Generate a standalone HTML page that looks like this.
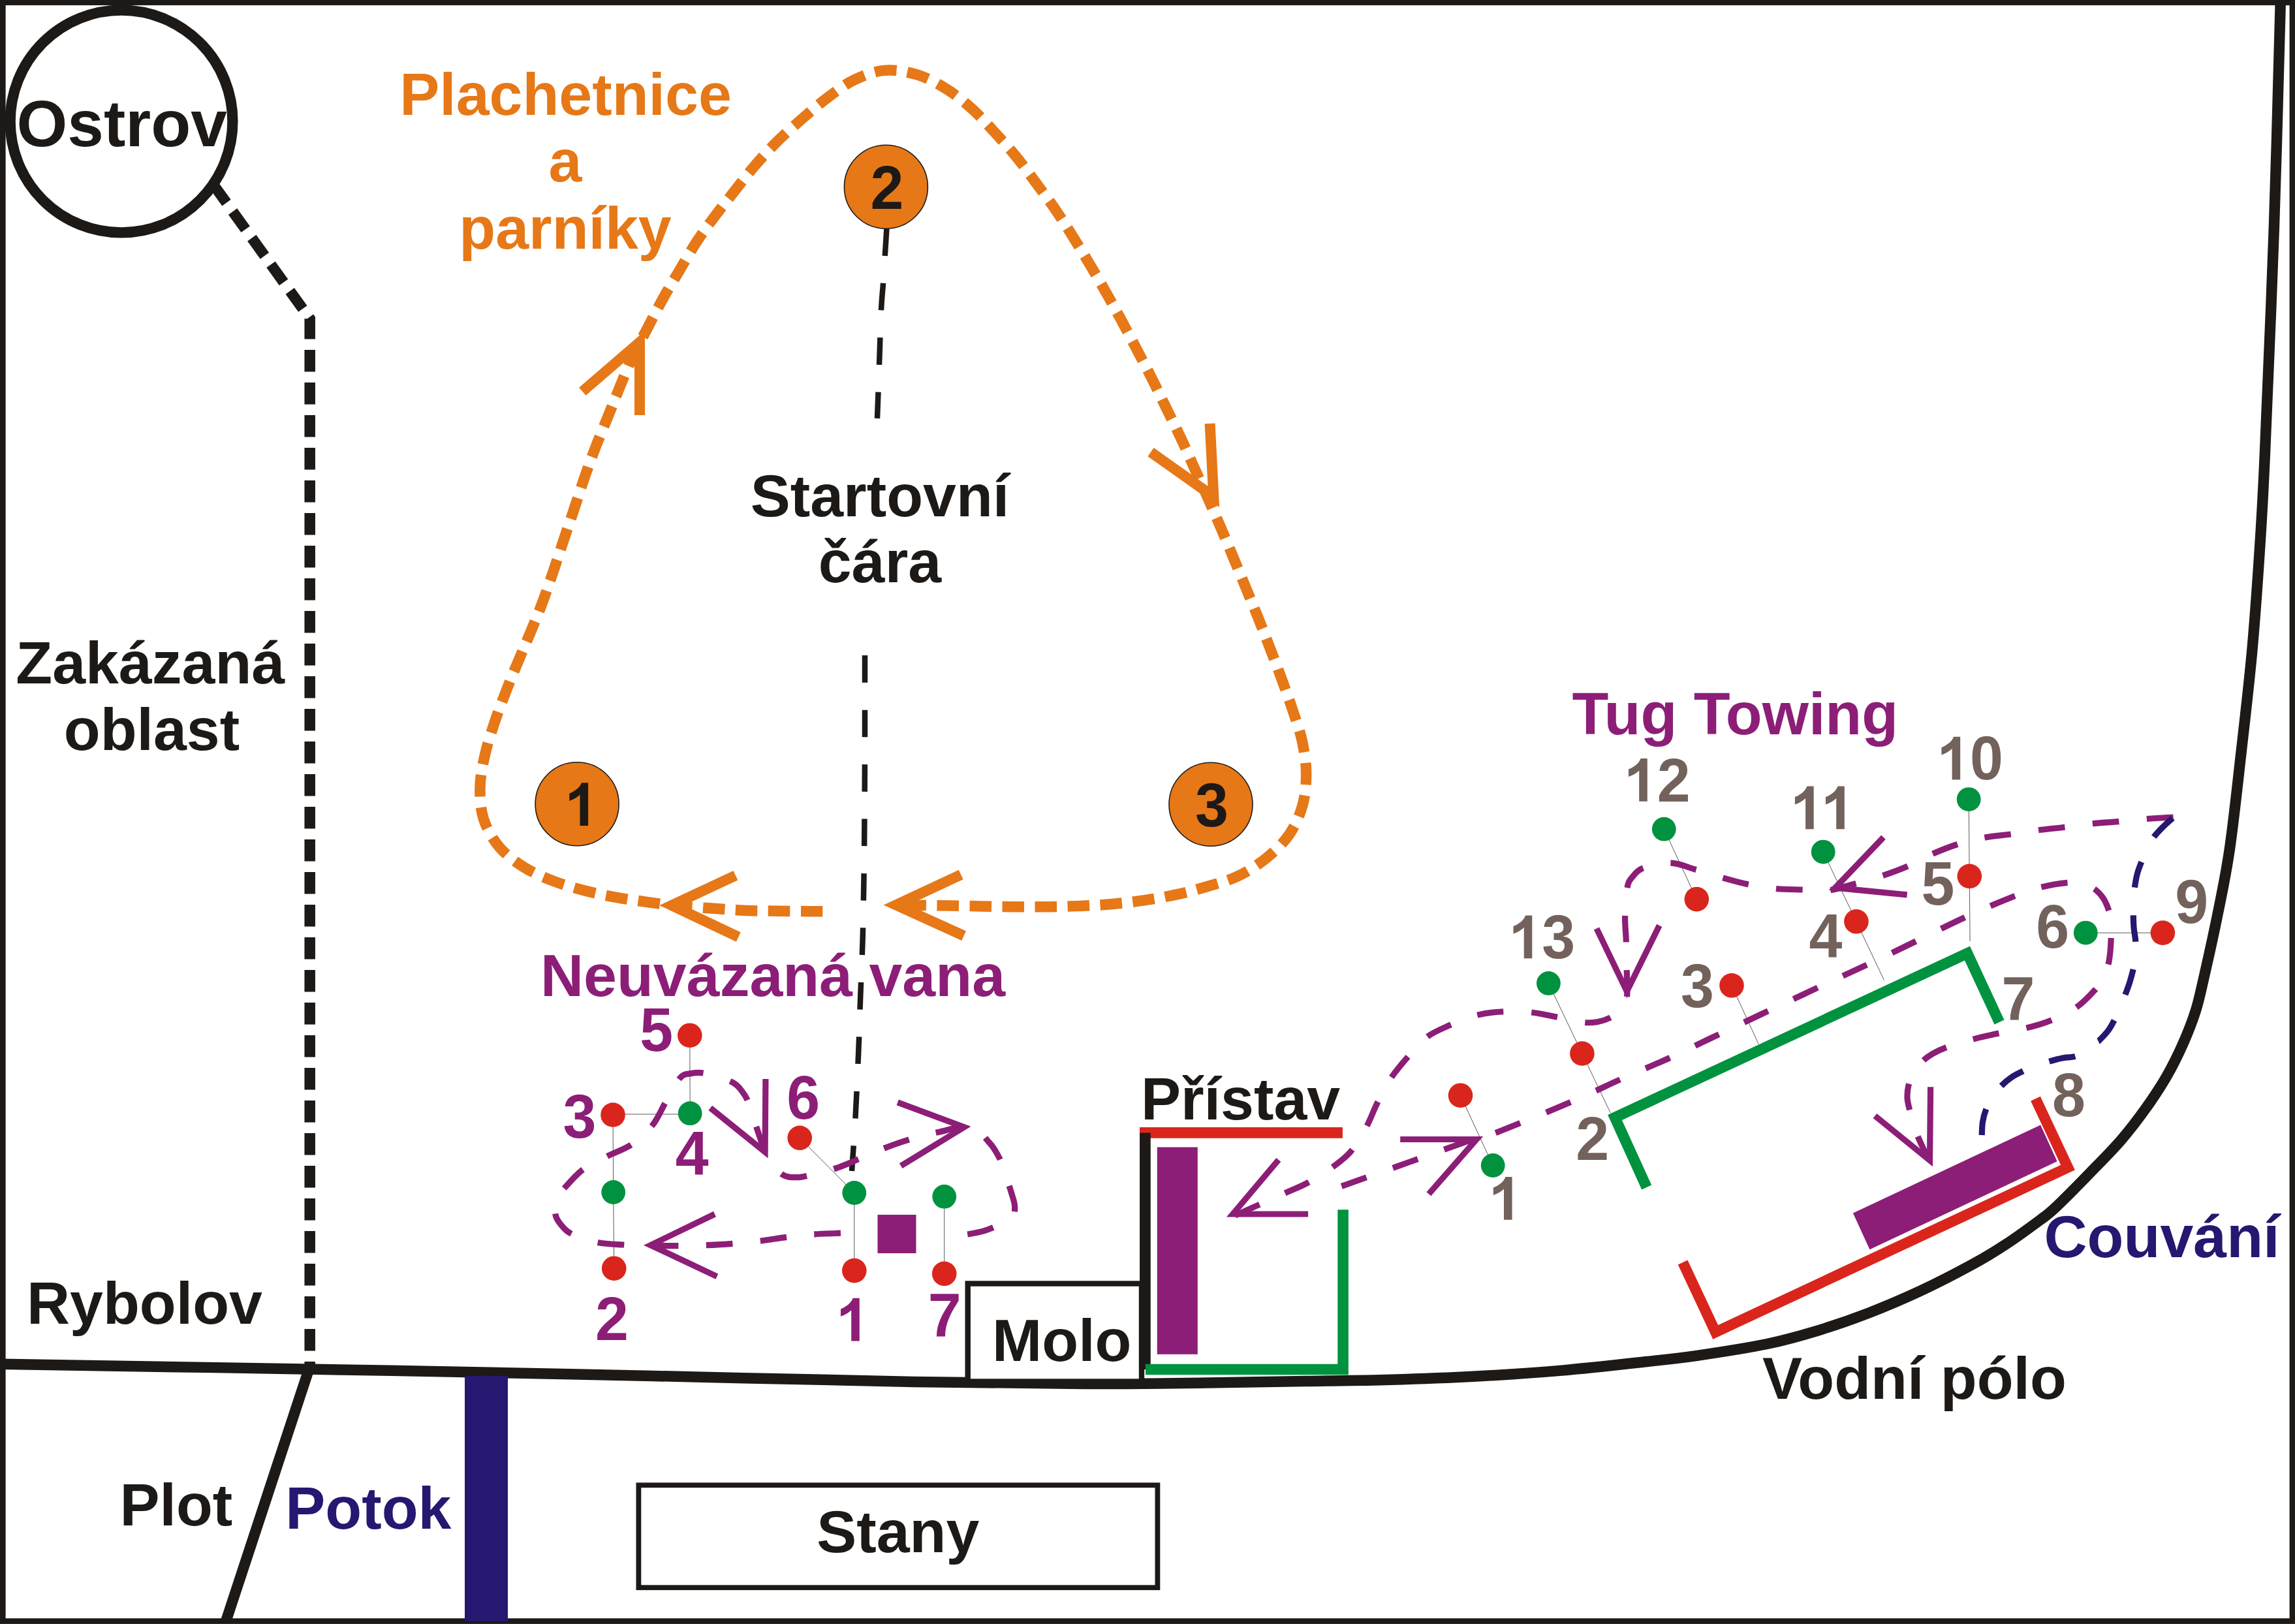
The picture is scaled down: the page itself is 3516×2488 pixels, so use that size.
<!DOCTYPE html>
<html><head><meta charset="utf-8"><title>Mapa</title>
<style>
html,body{margin:0;padding:0;background:#fff;overflow:hidden;}
svg{display:block;}
text{font-family:"Liberation Sans",sans-serif;font-weight:bold;}
</style></head><body>
<svg width="3516" height="2488" viewBox="0 0 3516 2488">
<rect x="4.3" y="3.8" width="3507.6" height="2479.8" fill="#fff" stroke="#1d1916" stroke-width="8.6"/>
<path d="M-5.0 2089.7 C95.8 2091.4 432.5 2096.6 600.0 2099.7 C767.5 2102.8 866.7 2105.1 1000.0 2108.0 C1133.3 2110.9 1289.7 2114.9 1400.0 2116.9 C1510.3 2118.9 1586.6 2119.7 1661.6 2120.0 C1736.6 2120.3 1793.6 2119.2 1850.0 2118.5 C1906.4 2117.8 1953.2 2116.9 2000.0 2116.1 C2046.8 2115.3 2087.2 2115.0 2130.8 2113.7 C2174.4 2112.4 2218.0 2110.8 2261.6 2108.5 C2305.2 2106.2 2348.9 2103.3 2392.5 2099.6 C2436.1 2095.8 2488.7 2089.8 2523.3 2086.0 C2557.9 2082.2 2569.4 2081.3 2600.0 2076.8 C2630.6 2072.3 2676.1 2065.4 2707.0 2059.0 C2737.9 2052.6 2759.3 2046.3 2785.5 2038.3 C2811.7 2030.3 2837.8 2021.2 2864.0 2011.1 C2890.2 2001.0 2916.3 1989.8 2942.5 1977.6 C2968.7 1965.3 2999.2 1949.5 3021.0 1937.6 C3042.8 1925.7 3055.9 1917.6 3073.3 1906.2 C3090.7 1894.8 3112.8 1878.5 3125.6 1869.0 C3138.4 1859.5 3137.1 1861.2 3150.0 1849.0 C3162.9 1836.8 3186.2 1813.1 3202.8 1796.0 C3219.4 1778.9 3235.4 1763.0 3249.6 1746.6 C3263.8 1730.1 3276.2 1713.7 3287.9 1697.3 C3299.6 1680.9 3310.5 1664.5 3319.9 1648.0 C3329.3 1631.5 3337.3 1615.0 3344.6 1598.6 C3351.9 1582.1 3358.4 1565.7 3363.6 1549.3 C3368.8 1532.9 3370.4 1524.1 3375.9 1500.0 C3381.4 1475.9 3390.0 1437.9 3396.7 1404.6 C3403.4 1371.3 3409.8 1342.8 3416.0 1300.0 C3422.2 1257.2 3428.4 1197.8 3434.1 1147.8 C3439.8 1097.8 3445.4 1050.0 3450.0 1000.0 C3454.6 950.0 3458.2 898.0 3461.5 848.0 C3464.8 798.0 3465.9 783.8 3469.7 700.0 C3473.4 616.2 3479.9 462.5 3484.0 345.0 C3488.1 227.5 3492.3 53.3 3494.0 -5.0" fill="none" stroke="#1d1916" stroke-width="16.5" stroke-linecap="butt" stroke-linejoin="miter" />
<path d="M472.5 2100.0 L346.0 2484.0" fill="none" stroke="#1d1916" stroke-width="16.5" stroke-linecap="butt" stroke-linejoin="miter" />
<rect x="712" y="2108" width="66" height="376" fill="#261770"/>
<rect x="978.4" y="2275.3" width="795" height="156.9" fill="none" stroke="#1d1916" stroke-width="7.8"/>
<rect x="1482.7" y="1966.5" width="266.3" height="150" fill="#fff" stroke="#1d1916" stroke-width="8.4"/>
<circle cx="186" cy="186" r="170.4" fill="none" stroke="#1d1916" stroke-width="16.3"/>
<path d="M327.4 283.5 L474.7 488.2 L474.7 2092.0" fill="none" stroke="#1d1916" stroke-width="16.5" stroke-linecap="butt" stroke-linejoin="miter" stroke-dasharray="33.5 16.5" />
<path d="M1260.3 1396.3 C1257.5 1396.3 1255.0 1396.3 1243.8 1396.2 C1232.6 1396.1 1210.0 1395.9 1193.3 1395.7 C1176.6 1395.5 1160.2 1395.6 1143.6 1394.9 C1126.9 1394.2 1110.7 1393.0 1093.4 1391.8 C1076.1 1390.6 1056.6 1389.6 1040.0 1388.0 C1023.4 1386.4 1010.0 1384.5 994.0 1382.3 C978.0 1380.1 960.8 1377.8 944.3 1374.8 C927.8 1371.8 911.2 1368.5 895.1 1364.3 C879.0 1360.1 863.0 1355.6 847.5 1349.6 C832.0 1343.6 816.1 1337.0 802.2 1328.2 C788.3 1319.4 774.5 1309.2 764.2 1296.8 C754.0 1284.4 745.5 1269.4 740.7 1254.1 C735.9 1238.8 735.1 1221.2 735.5 1204.7 C735.9 1188.2 739.6 1171.3 743.3 1155.0 C747.0 1138.7 752.4 1122.8 757.6 1107.0 C762.9 1091.2 768.8 1075.6 774.8 1060.1 C780.8 1044.6 787.2 1029.1 793.6 1013.8 C800.0 998.4 806.7 983.4 813.0 968.0 C819.3 952.6 825.8 937.1 831.6 921.5 C837.4 905.9 842.6 890.2 848.0 874.4 C853.4 858.6 858.5 842.4 863.7 826.8 C868.9 811.2 873.9 796.9 879.2 781.0 C884.5 765.1 890.0 747.5 895.5 731.5 C901.0 715.5 906.5 700.4 912.5 684.8 C918.5 669.2 925.4 653.2 931.6 637.7 C937.8 622.2 943.6 607.3 949.9 592.0 C956.2 576.7 962.4 561.0 969.5 546.0 C976.6 531.0 984.8 516.5 992.5 501.7 C1000.2 486.9 1007.7 471.8 1015.8 457.2 C1023.9 442.6 1032.4 428.7 1041.0 414.2 C1049.6 399.7 1058.4 383.9 1067.5 370.0 C1076.6 356.1 1085.8 343.8 1095.5 330.8 C1105.2 317.9 1115.3 305.2 1125.6 292.3 C1135.8 279.4 1146.0 265.9 1157.0 253.1 C1168.0 240.3 1179.9 227.5 1191.8 215.7 C1203.7 203.9 1215.9 193.3 1228.4 182.4 C1240.9 171.5 1253.6 160.2 1266.9 150.3 C1280.2 140.4 1293.3 129.9 1308.0 122.8 C1322.7 115.7 1338.8 109.3 1355.0 107.9 C1371.2 106.5 1389.2 109.7 1405.0 114.4 C1420.8 119.1 1435.5 127.2 1449.5 135.9 C1463.5 144.6 1476.8 155.5 1489.3 166.8 C1501.8 178.1 1513.3 191.3 1524.6 203.5 C1535.8 215.7 1546.4 227.3 1556.8 240.0 C1567.2 252.7 1577.0 266.4 1586.9 279.8 C1596.8 293.2 1607.0 306.7 1616.4 320.4 C1625.8 334.1 1634.6 348.1 1643.4 362.2 C1652.2 376.3 1661.0 390.6 1669.5 404.9 C1678.0 419.2 1686.2 433.5 1694.4 448.0 C1702.6 462.5 1710.8 477.3 1718.7 492.0 C1726.6 506.7 1734.3 521.5 1742.0 536.2 C1749.7 550.9 1757.5 565.5 1765.0 580.4 C1772.5 595.3 1779.5 610.4 1786.8 625.4 C1794.1 640.4 1801.6 655.1 1808.8 670.4 C1816.0 685.6 1822.8 701.6 1829.7 716.9 C1836.6 732.2 1843.3 747.0 1850.0 762.0 C1856.7 777.0 1863.2 791.9 1869.8 807.2 C1876.4 822.5 1883.0 838.5 1889.4 854.0 C1895.9 869.5 1902.2 884.8 1908.5 900.1 C1914.8 915.4 1921.0 930.2 1927.2 945.6 C1933.4 961.0 1939.4 976.7 1945.4 992.3 C1951.4 1007.9 1957.5 1023.7 1963.2 1039.4 C1969.0 1055.1 1974.7 1070.7 1979.9 1086.5 C1985.1 1102.3 1991.1 1118.0 1994.6 1134.1 C1998.1 1150.2 2000.9 1166.7 2001.1 1183.3 C2001.3 1199.9 2000.0 1217.6 1995.6 1233.5 C1991.2 1249.4 1984.2 1265.3 1974.9 1278.8 C1965.7 1292.3 1952.9 1304.1 1940.1 1314.6 C1927.2 1325.1 1912.5 1334.4 1897.8 1341.6 C1883.1 1348.8 1867.4 1352.8 1851.7 1357.5 C1836.0 1362.2 1820.0 1366.5 1803.7 1370.1 C1787.4 1373.7 1770.6 1376.7 1754.0 1379.2 C1737.4 1381.7 1720.8 1383.5 1704.2 1385.0 C1687.6 1386.5 1671.2 1387.2 1654.5 1387.9 C1637.8 1388.6 1621.1 1389.0 1604.3 1389.2 C1587.5 1389.4 1570.5 1389.3 1553.8 1389.2 C1537.1 1389.1 1520.7 1388.7 1504.1 1388.4 C1487.5 1388.1 1469.2 1387.8 1454.4 1387.6 C1439.6 1387.4 1426.6 1387.2 1415.0 1387.0 C1403.4 1386.8 1390.0 1386.8 1385.0 1386.7" fill="none" stroke="#e67817" stroke-width="16.5" stroke-linecap="butt" stroke-linejoin="miter" stroke-dasharray="33.5 16.5" />
<path d="M892.3 599.8 L980.0 524.2 L980.0 635.9" fill="none" stroke="#e67817" stroke-width="16" stroke-linecap="butt" stroke-linejoin="miter" stroke-miterlimit="10"/>
<path d="M1853.6 648.9 L1859.3 760.9 L1763.0 692.6" fill="none" stroke="#e67817" stroke-width="16" stroke-linecap="butt" stroke-linejoin="miter" stroke-miterlimit="10"/>
<path d="M1126.9 1341.3 L1029.0 1387.1 L1131.3 1435.5" fill="none" stroke="#e67817" stroke-width="16" stroke-linecap="butt" stroke-linejoin="miter" stroke-miterlimit="10"/>
<path d="M1472.2 1340.0 L1372.7 1386.5 L1476.6 1433.6" fill="none" stroke="#e67817" stroke-width="16" stroke-linecap="butt" stroke-linejoin="miter" stroke-miterlimit="10"/>
<circle cx="1357.4" cy="286.3" r="64" fill="#e67817" stroke="#1d1916" stroke-width="1.6"/>
<text transform="translate(1358.9,319.6) scale(1,1.04)" fill="#1d1916" font-size="91.5" text-anchor="middle">2</text>
<circle cx="884.1" cy="1231.8" r="64" fill="#e67817" stroke="#1d1916" stroke-width="1.6"/>
<path transform="translate(865.06,1264.90) scale(0.04468,-0.04468)" d="M806 0H525V1059Q371 915 162 846V1101Q272 1137 401 1237.5T578 1472H806V0Z" fill="#1d1916"/>
<circle cx="1855" cy="1232.2" r="64" fill="#e67817" stroke="#1d1916" stroke-width="1.6"/>
<text transform="translate(1856.5,1265.5) scale(1,1.04)" fill="#1d1916" font-size="91.5" text-anchor="middle">3</text>
<path d="M1358.4 350.4 C1358.0 357.3 1356.7 377.8 1355.8 391.8 C1354.9 405.9 1354.0 420.8 1353.0 434.7 C1352.0 448.6 1351.0 454.1 1350.0 475.0 C1349.0 495.9 1348.0 532.3 1347.0 560.0 C1346.0 587.7 1344.5 627.5 1344.0 641.0" fill="none" stroke="#1d1916" stroke-width="8.5" stroke-linecap="butt" stroke-linejoin="miter" stroke-dasharray="41.7 41.8" />
<path d="M1325.0 1004.0 C1325.0 1025.0 1325.0 1095.7 1325.0 1130.0 C1325.0 1164.3 1324.8 1185.8 1324.7 1210.0 C1324.6 1234.2 1324.5 1250.5 1324.3 1275.0 C1324.1 1299.5 1323.8 1329.5 1323.3 1357.0 C1322.8 1384.5 1322.4 1412.0 1321.6 1440.0 C1320.8 1468.0 1319.3 1496.7 1318.3 1525.0 C1317.2 1553.3 1316.6 1578.8 1315.3 1610.0 C1314.0 1641.2 1312.2 1681.3 1310.5 1712.0 C1308.8 1742.7 1305.9 1780.3 1305.0 1794.0" fill="none" stroke="#1d1916" stroke-width="8.5" stroke-linecap="butt" stroke-linejoin="miter" stroke-dasharray="41.7 41.8" />
<text x="186.7" y="224.3" fill="#1d1916" font-size="100" text-anchor="middle">Ostrov</text>
<text x="866.5" y="176.0" fill="#e67817" font-size="91.5" text-anchor="middle">Plachetnice</text>
<text x="866.0" y="278.0" fill="#e67817" font-size="91.5" text-anchor="middle">a</text>
<text x="866.0" y="380.7" fill="#e67817" font-size="91.5" text-anchor="middle">parníky</text>
<text x="1348.0" y="791.0" fill="#1d1916" font-size="91.5" text-anchor="middle">Startovní</text>
<text x="1348.0" y="892.0" fill="#1d1916" font-size="91.5" text-anchor="middle">čára</text>
<text x="230.3" y="1046.7" fill="#1d1916" font-size="91.5" text-anchor="middle">Zakázaná</text>
<text x="232.5" y="1149.2" fill="#1d1916" font-size="91.5" text-anchor="middle">oblast</text>
<text x="41.0" y="2027.7" fill="#1d1916" font-size="91.5" text-anchor="start">Rybolov</text>
<text x="183.5" y="2336.7" fill="#1d1916" font-size="91.5" text-anchor="start">Plot</text>
<text x="437.3" y="2341.7" fill="#261770" font-size="91.5" text-anchor="start">Potok</text>
<text x="1375.8" y="2378.0" fill="#1d1916" font-size="91.5" text-anchor="middle">Stany</text>
<text x="1626.8" y="2084.5" fill="#1d1916" font-size="91.5" text-anchor="middle">Molo</text>
<text x="1900.6" y="1715.4" fill="#1d1916" font-size="91.5" text-anchor="middle">Přístav</text>
<text x="828.0" y="1525.8" fill="#8c1e77" font-size="91.5" text-anchor="start">Neuvázaná vana</text>
<text x="2658.3" y="1124.6" fill="#8c1e77" font-size="91.5" text-anchor="middle">Tug Towing</text>
<text x="3312.0" y="1925.7" fill="#261770" font-size="91.5" text-anchor="middle">Couvání</text>
<text x="2933.0" y="2143.0" fill="#1d1916" font-size="91.5" text-anchor="middle">Vodní pólo</text>
<path d="M1746.0 1735.3 L2056.9 1735.3" fill="none" stroke="#da251d" stroke-width="16.8" stroke-linecap="butt" stroke-linejoin="miter" />
<path d="M1754.4 1735.4 L1754.4 2098.0" fill="none" stroke="#1d1916" stroke-width="16.7" stroke-linecap="butt" stroke-linejoin="miter" />
<rect x="1772.8" y="1757.5" width="62" height="317.3" fill="#8c1e77"/>
<path d="M2057.6 1853.2 L2057.6 2098.0 L1755.0 2098.0" fill="none" stroke="#00923f" stroke-width="16.5" stroke-linecap="butt" stroke-linejoin="miter" />
<path d="M2522.7 1819.0 L2474.0 1712.0 L3014.0 1460.5 L3063.0 1566.0" fill="none" stroke="#00923f" stroke-width="16.5" stroke-linecap="butt" stroke-linejoin="miter" />
<path d="M2578.1 1934.0 L2628.2 2040.8 L3168.0 1788.6 L3118.5 1683.2" fill="none" stroke="#da251d" stroke-width="16.3" stroke-linecap="butt" stroke-linejoin="miter" />
<polygon points="2838.9,1858.5 3126.1,1723.5 3151.6,1779.3 2864.4,1914.3" fill="#8c1e77"/>
<rect x="1344.5" y="1861" width="59" height="59" fill="#8c1e77"/>
<path d="M1056.8 1586.0 L1057.2 1705.7" fill="none" stroke="#5a5a5a" stroke-width="1.0" stroke-linecap="butt" stroke-linejoin="miter" />
<path d="M939.0 1707.0 L1057.2 1707.0" fill="none" stroke="#5a5a5a" stroke-width="1.0" stroke-linecap="butt" stroke-linejoin="miter" />
<path d="M939.0 1708.0 L939.7 1826.5 L940.7 1943.0" fill="none" stroke="#5a5a5a" stroke-width="1.0" stroke-linecap="butt" stroke-linejoin="miter" />
<path d="M1225.2 1743.3 L1308.8 1827.5 L1308.8 1946.6" fill="none" stroke="#5a5a5a" stroke-width="1.0" stroke-linecap="butt" stroke-linejoin="miter" />
<path d="M1446.7 1833.0 L1446.7 1951.0" fill="none" stroke="#5a5a5a" stroke-width="1.0" stroke-linecap="butt" stroke-linejoin="miter" />
<path d="M2237.5 1678.2 L2287.2 1785.5" fill="none" stroke="#5a5a5a" stroke-width="1.0" stroke-linecap="butt" stroke-linejoin="miter" />
<path d="M2372.4 1506.4 L2467.3 1705.0" fill="none" stroke="#5a5a5a" stroke-width="1.0" stroke-linecap="butt" stroke-linejoin="miter" />
<path d="M2549.3 1270.2 L2599.3 1377.6" fill="none" stroke="#5a5a5a" stroke-width="1.0" stroke-linecap="butt" stroke-linejoin="miter" />
<path d="M2793.2 1305.1 L2886.5 1501.7" fill="none" stroke="#5a5a5a" stroke-width="1.0" stroke-linecap="butt" stroke-linejoin="miter" />
<path d="M2653.0 1509.8 L2694.2 1599.7" fill="none" stroke="#5a5a5a" stroke-width="1.0" stroke-linecap="butt" stroke-linejoin="miter" />
<path d="M3016.2 1224.6 L3018.1 1442.0" fill="none" stroke="#5a5a5a" stroke-width="1.0" stroke-linecap="butt" stroke-linejoin="miter" />
<path d="M3195.3 1429.1 L3313.4 1429.1" fill="none" stroke="#5a5a5a" stroke-width="1.0" stroke-linecap="butt" stroke-linejoin="miter" />
<path d="M1288.0 1889.2 C1281.3 1889.5 1261.4 1889.9 1247.7 1890.9 C1234.0 1891.9 1219.5 1893.6 1205.8 1895.3 C1192.1 1897.0 1179.5 1899.3 1165.5 1901.0 C1151.5 1902.7 1135.9 1904.2 1121.9 1905.3 C1107.9 1906.4 1095.3 1907.1 1081.6 1907.7 C1067.9 1908.3 1055.6 1908.7 1039.7 1908.7 C1023.8 1908.7 1000.0 1908.0 986.0 1907.7 C972.0 1907.4 967.5 1907.7 955.8 1907.0 C944.1 1906.3 929.0 1906.4 915.6 1903.6 C902.2 1900.8 884.8 1895.0 875.3 1890.2 C865.8 1885.5 862.6 1880.1 858.5 1875.1 C854.4 1870.1 851.7 1866.2 850.8 1860.0 C849.9 1853.8 850.6 1844.7 853.0 1838.0 C855.4 1831.3 858.4 1827.6 865.2 1819.8 C872.0 1812.0 882.8 1799.3 893.7 1791.2 C904.6 1783.1 918.4 1777.4 930.7 1771.1 C943.0 1764.8 956.2 1761.1 967.6 1753.3 C979.0 1745.5 990.7 1734.8 999.4 1724.1 C1008.1 1713.4 1012.6 1700.9 1019.6 1688.9 C1026.6 1676.9 1035.0 1659.4 1041.4 1652.0 C1047.8 1644.6 1051.5 1645.8 1058.1 1644.6 C1064.7 1643.4 1070.5 1642.4 1081.0 1644.6 C1091.5 1646.8 1111.9 1653.1 1121.2 1657.7 C1130.5 1662.3 1132.7 1666.7 1137.0 1672.1 C1141.3 1677.5 1143.2 1680.2 1147.0 1689.9 C1150.8 1699.6 1155.1 1715.9 1160.0 1730.0 C1164.9 1744.1 1170.1 1762.9 1176.6 1774.5 C1183.1 1786.1 1191.6 1794.7 1199.0 1799.6 C1206.4 1804.5 1213.9 1803.6 1220.9 1803.7 C1227.9 1803.8 1230.9 1802.7 1241.0 1800.3 C1251.1 1797.9 1268.1 1794.0 1281.3 1789.6 C1294.5 1785.2 1307.1 1779.1 1319.9 1773.8 C1332.8 1768.5 1345.4 1762.6 1358.4 1757.7 C1371.4 1752.8 1384.6 1748.2 1398.0 1744.3 C1411.4 1740.4 1424.1 1737.3 1439.0 1734.2 C1453.9 1731.1 1474.8 1723.0 1487.6 1725.8 C1500.4 1728.6 1509.1 1743.5 1516.1 1751.0 C1523.1 1758.5 1526.1 1764.9 1529.5 1771.1 C1532.9 1777.2 1532.9 1778.4 1536.3 1787.9 C1539.7 1797.4 1546.6 1817.8 1549.7 1828.1 C1552.8 1838.4 1555.0 1843.6 1554.7 1850.0 C1554.4 1856.4 1555.5 1860.8 1548.0 1866.7 C1540.5 1872.6 1522.5 1880.8 1509.4 1885.2 C1496.3 1889.6 1475.9 1891.6 1469.2 1892.9" fill="none" stroke="#8c1e77" stroke-width="9.2" stroke-linecap="butt" stroke-linejoin="miter" stroke-dasharray="40.7 42.5" />
<path d="M1095.0 1860.0 L996.7 1907.6 L1098.4 1955.6" fill="none" stroke="#8c1e77" stroke-width="9.2" stroke-linecap="butt" stroke-linejoin="miter" stroke-miterlimit="10"/>
<path d="M1172.9 1653.0 L1172.1 1764.9 L1088.3 1697.3" fill="none" stroke="#8c1e77" stroke-width="9.2" stroke-linecap="butt" stroke-linejoin="miter" stroke-miterlimit="10"/>
<path d="M1375.2 1688.9 L1477.1 1726.8 L1380.2 1786.2" fill="none" stroke="#8c1e77" stroke-width="9.2" stroke-linecap="butt" stroke-linejoin="miter" stroke-miterlimit="10"/>
<path d="M2055.3 1817.4 C2072.8 1811.2 2124.7 1792.6 2160.0 1780.0 C2195.3 1767.4 2245.0 1749.4 2267.0 1741.9 C2289.0 1734.4 2268.9 1744.2 2292.2 1735.2 C2315.5 1726.2 2375.3 1701.8 2407.0 1688.2 C2438.7 1674.6 2457.1 1665.0 2482.4 1653.7 C2507.7 1642.4 2535.7 1630.9 2558.6 1620.4 C2581.5 1610.0 2596.4 1602.2 2620.0 1591.0 C2643.6 1579.8 2670.0 1567.2 2700.0 1553.0 C2730.0 1538.8 2766.7 1521.6 2800.0 1506.0 C2833.3 1490.4 2865.0 1476.0 2900.0 1459.2 C2935.0 1442.5 2978.9 1419.9 3010.0 1405.5 C3041.1 1391.1 3067.0 1380.4 3086.5 1372.7 C3106.0 1365.0 3113.4 1362.7 3126.8 1359.3 C3140.2 1355.9 3156.6 1353.1 3167.1 1352.3 C3177.6 1351.5 3183.0 1352.9 3189.9 1354.5 C3196.8 1356.1 3203.3 1358.4 3208.7 1362.0 C3214.1 1365.6 3218.4 1370.5 3222.1 1375.9 C3225.8 1381.4 3228.5 1388.0 3230.7 1394.7 C3232.9 1401.4 3234.9 1409.0 3235.5 1416.2 C3236.1 1423.4 3234.6 1430.5 3234.2 1437.7 C3233.8 1444.9 3233.6 1452.4 3232.8 1459.2 C3232.0 1466.0 3231.6 1471.8 3229.6 1478.5 C3227.6 1485.2 3224.2 1493.0 3220.8 1499.4 C3217.4 1505.8 3215.9 1509.5 3209.2 1516.9 C3202.5 1524.3 3191.7 1536.0 3180.5 1543.7 C3169.3 1551.4 3155.1 1557.9 3142.2 1563.2 C3129.2 1568.5 3116.4 1572.0 3102.8 1575.3 C3089.2 1578.6 3074.6 1580.4 3060.9 1583.3 C3047.2 1586.2 3033.9 1589.1 3020.6 1592.7 C3007.3 1596.3 2991.1 1601.2 2981.2 1604.8 C2971.3 1608.4 2967.1 1610.6 2961.0 1614.2 C2954.9 1617.8 2949.8 1621.4 2944.9 1626.3 C2940.0 1631.2 2935.0 1637.7 2931.5 1643.7 C2928.0 1649.7 2925.6 1656.0 2924.0 1662.5 C2922.4 1669.0 2921.7 1676.0 2922.1 1682.7 C2922.5 1689.4 2924.4 1695.4 2926.2 1702.8 C2928.0 1710.2 2930.7 1720.0 2932.9 1726.9 C2935.1 1733.8 2936.9 1738.1 2939.6 1744.4 C2942.3 1750.7 2945.4 1757.3 2949.0 1764.5 C2952.6 1771.7 2959.0 1783.5 2961.0 1787.3" fill="none" stroke="#8c1e77" stroke-width="9.2" stroke-linecap="butt" stroke-linejoin="miter" stroke-dasharray="40.7 42.7" />
<path d="M2145.2 1745.5 L2262.1 1745.5 L2188.9 1829.2" fill="none" stroke="#8c1e77" stroke-width="9.2" stroke-linecap="butt" stroke-linejoin="miter" stroke-miterlimit="10"/>
<path d="M2957.6 1665.2 L2956.5 1777.7 L2872.5 1709.5" fill="none" stroke="#8c1e77" stroke-width="9.2" stroke-linecap="butt" stroke-linejoin="miter" stroke-miterlimit="10"/>
<path d="M3329.5 1252.0 C3322.6 1252.4 3301.9 1253.5 3287.9 1254.6 C3273.9 1255.7 3259.6 1257.4 3245.7 1258.6 C3231.8 1259.8 3218.4 1260.5 3204.6 1261.9 C3190.8 1263.3 3176.9 1265.5 3163.0 1267.2 C3149.1 1268.9 3135.2 1270.2 3121.4 1272.0 C3107.6 1273.8 3094.0 1276.1 3080.4 1278.0 C3066.8 1279.9 3053.2 1280.7 3039.6 1283.3 C3026.0 1285.9 3012.0 1289.3 2998.8 1293.5 C2985.6 1297.7 2973.1 1302.7 2960.4 1308.3 C2947.7 1313.9 2936.2 1321.2 2922.8 1327.0 C2909.4 1332.8 2894.1 1338.3 2880.0 1343.0 C2865.9 1347.7 2851.1 1351.5 2838.0 1355.0 C2824.9 1358.5 2814.4 1362.6 2801.6 1363.9 C2788.8 1365.2 2774.4 1363.4 2761.0 1363.0 C2747.6 1362.6 2734.8 1362.9 2721.0 1361.5 C2707.2 1360.1 2691.7 1357.6 2678.0 1354.8 C2664.3 1352.0 2652.3 1348.5 2639.0 1344.7 C2625.7 1341.0 2611.2 1336.0 2598.0 1332.3 C2584.8 1328.5 2573.3 1322.7 2560.0 1322.2 C2546.7 1321.8 2527.8 1326.1 2518.0 1329.6 C2508.2 1333.1 2505.5 1338.0 2501.3 1343.0 C2497.1 1348.0 2494.9 1349.7 2493.0 1359.8 C2491.1 1369.9 2489.9 1389.7 2489.6 1403.4 C2489.3 1417.1 2490.9 1428.3 2491.3 1442.0 C2491.7 1455.7 2492.0 1471.0 2492.2 1485.6 C2492.4 1500.1 2493.8 1518.9 2492.3 1529.3 C2490.8 1539.7 2487.4 1542.7 2483.0 1547.7 C2478.6 1552.7 2471.9 1556.5 2466.0 1559.5 C2460.1 1562.5 2454.3 1564.4 2447.6 1565.5 C2440.9 1566.6 2436.8 1567.5 2425.8 1566.2 C2414.8 1564.9 2395.6 1560.0 2381.8 1557.4 C2368.0 1554.8 2356.9 1551.9 2343.2 1550.7 C2329.5 1549.5 2313.3 1549.2 2299.6 1550.0 C2285.9 1550.8 2274.2 1552.2 2261.0 1555.7 C2247.8 1559.2 2233.3 1565.2 2220.7 1570.8 C2208.1 1576.4 2196.4 1580.8 2185.5 1589.2 C2174.6 1597.6 2164.5 1610.5 2155.3 1621.1 C2146.1 1631.7 2137.8 1641.5 2130.2 1653.0 C2122.6 1664.5 2116.2 1677.6 2110.0 1689.9 C2103.8 1702.2 2099.9 1714.5 2093.2 1726.8 C2086.5 1739.1 2078.7 1753.2 2069.8 1763.7 C2060.9 1774.2 2050.8 1781.4 2039.6 1789.5 C2028.4 1797.6 2015.0 1805.8 2002.7 1812.4 C1990.4 1819.0 1985.7 1820.2 1965.8 1829.1 C1945.9 1838.0 1897.3 1859.8 1883.6 1866.0" fill="none" stroke="#8c1e77" stroke-width="9.2" stroke-linecap="butt" stroke-linejoin="miter" stroke-dasharray="40.7 42.7" />
<path d="M2885.5 1282.7 L2811.5 1360.2 L2921.7 1370.9" fill="none" stroke="#8c1e77" stroke-width="9.2" stroke-linecap="butt" stroke-linejoin="miter" stroke-miterlimit="10"/>
<path d="M2446.0 1422.6 L2492.4 1518.8 L2542.2 1417.9" fill="none" stroke="#8c1e77" stroke-width="9.2" stroke-linecap="butt" stroke-linejoin="miter" stroke-miterlimit="10"/>
<path d="M2004.1 1860.0 L1888.8 1859.9 L1958.8 1776.9" fill="none" stroke="#8c1e77" stroke-width="9.2" stroke-linecap="butt" stroke-linejoin="miter" stroke-miterlimit="10"/>
<path d="M3036.2 1739.0 C3036.4 1735.7 3036.4 1725.6 3037.5 1718.9 C3038.6 1712.2 3040.4 1705.3 3042.9 1698.8 C3045.4 1692.3 3048.5 1685.8 3052.3 1680.0 C3056.1 1674.2 3060.8 1668.8 3065.7 1663.9 C3070.6 1659.0 3076.2 1654.2 3081.8 1650.4 C3087.4 1646.6 3093.0 1643.9 3099.3 1641.0 C3105.6 1638.1 3112.8 1635.5 3119.4 1633.0 C3126.0 1630.5 3132.0 1628.3 3138.7 1626.3 C3145.4 1624.3 3152.8 1622.2 3159.7 1620.9 C3166.5 1619.6 3173.1 1620.2 3179.8 1618.2 C3186.5 1616.2 3194.1 1612.6 3199.9 1608.8 C3205.7 1605.0 3209.8 1600.3 3214.7 1595.4 C3219.6 1590.5 3225.3 1584.9 3229.5 1579.3 C3233.7 1573.7 3236.6 1567.9 3239.7 1561.9 C3242.8 1555.9 3245.4 1549.6 3248.2 1543.1 C3251.0 1536.6 3253.8 1529.4 3256.3 1522.9 C3258.8 1516.4 3261.0 1510.7 3263.0 1504.2 C3265.0 1497.7 3266.9 1490.6 3268.4 1484.0 C3269.9 1477.4 3271.2 1471.4 3271.8 1464.5 C3272.4 1457.6 3272.2 1449.7 3271.8 1442.5 C3271.4 1435.3 3269.7 1428.4 3269.1 1421.6 C3268.5 1414.8 3268.4 1408.1 3268.3 1401.4 C3268.2 1394.7 3268.0 1388.2 3268.3 1381.3 C3268.7 1374.4 3269.4 1366.9 3270.4 1359.8 C3271.4 1352.7 3272.6 1345.1 3274.4 1338.4 C3276.2 1331.7 3278.6 1325.9 3281.1 1319.6 C3283.6 1313.3 3286.0 1307.1 3289.2 1300.8 C3292.3 1294.5 3295.8 1287.8 3300.0 1282.0 C3304.2 1276.2 3309.8 1270.8 3314.7 1265.9 C3319.6 1261.0 3327.0 1254.7 3329.5 1252.5" fill="none" stroke="#261770" stroke-width="9.2" stroke-linecap="butt" stroke-linejoin="miter" stroke-dasharray="40.7 42.7" />
<circle cx="1056.8" cy="1586.2" r="18.8" fill="#da251d"/>
<circle cx="939.0" cy="1708.0" r="18.8" fill="#da251d"/>
<circle cx="940.7" cy="1943.2" r="18.8" fill="#da251d"/>
<circle cx="1225.2" cy="1743.3" r="18.8" fill="#da251d"/>
<circle cx="1308.8" cy="1946.6" r="18.8" fill="#da251d"/>
<circle cx="1446.7" cy="1951.3" r="18.8" fill="#da251d"/>
<circle cx="2237.5" cy="1678.2" r="18.8" fill="#da251d"/>
<circle cx="2423.9" cy="1614.0" r="18.8" fill="#da251d"/>
<circle cx="2599.3" cy="1377.6" r="18.8" fill="#da251d"/>
<circle cx="2843.9" cy="1411.8" r="18.8" fill="#da251d"/>
<circle cx="2653.0" cy="1509.8" r="18.8" fill="#da251d"/>
<circle cx="3017.3" cy="1342.4" r="18.8" fill="#da251d"/>
<circle cx="3313.4" cy="1429.1" r="18.8" fill="#da251d"/>
<circle cx="1057.2" cy="1705.7" r="18.4" fill="#00923f"/>
<circle cx="939.7" cy="1826.5" r="18.4" fill="#00923f"/>
<circle cx="1308.8" cy="1827.5" r="18.4" fill="#00923f"/>
<circle cx="1446.7" cy="1833.2" r="18.4" fill="#00923f"/>
<circle cx="2287.2" cy="1785.5" r="18.4" fill="#00923f"/>
<circle cx="2372.4" cy="1506.4" r="18.4" fill="#00923f"/>
<circle cx="2549.3" cy="1270.2" r="18.4" fill="#00923f"/>
<circle cx="2793.2" cy="1305.1" r="18.4" fill="#00923f"/>
<circle cx="3016.2" cy="1224.6" r="18.4" fill="#00923f"/>
<circle cx="3195.3" cy="1429.1" r="18.4" fill="#00923f"/>
<text transform="translate(1005.8,1610.0) scale(1,1.04)" fill="#8c1e77" font-size="91.5" text-anchor="middle">5</text>
<text transform="translate(888.0,1742.6) scale(1,1.04)" fill="#8c1e77" font-size="91.5" text-anchor="middle">3</text>
<text transform="translate(1060.2,1798.5) scale(1,1.04)" fill="#8c1e77" font-size="91.5" text-anchor="middle">4</text>
<text transform="translate(1230.8,1714.0) scale(1,1.04)" fill="#8c1e77" font-size="91.5" text-anchor="middle">6</text>
<text transform="translate(937.4,2053.0) scale(1,1.04)" fill="#8c1e77" font-size="91.5" text-anchor="middle">2</text>
<path transform="translate(1280.76,2054.60) scale(0.04468,-0.04468)" d="M806 0H525V1059Q371 915 162 846V1101Q272 1137 401 1237.5T578 1472H806V0Z" fill="#8c1e77"/>
<text transform="translate(1447.2,2048.0) scale(1,1.04)" fill="#8c1e77" font-size="91.5" text-anchor="middle">7</text>
<path transform="translate(2487.76,1227.80) scale(0.04468,-0.04468)" d="M806 0H525V1059Q371 915 162 846V1101Q272 1137 401 1237.5T578 1472H806V0Z" fill="#72625b"/>
<text transform="translate(2538.7,1227.8) scale(1,1.04)" fill="#72625b" font-size="91.5" text-anchor="start">2</text>
<path transform="translate(2742.66,1270.20) scale(0.04468,-0.04468)" d="M806 0H525V1059Q371 915 162 846V1101Q272 1137 401 1237.5T578 1472H806V0Z" fill="#72625b"/>
<path transform="translate(2789.76,1270.20) scale(0.04468,-0.04468)" d="M806 0H525V1059Q371 915 162 846V1101Q272 1137 401 1237.5T578 1472H806V0Z" fill="#72625b"/>
<path transform="translate(2967.16,1194.40) scale(0.04468,-0.04468)" d="M806 0H525V1059Q371 915 162 846V1101Q272 1137 401 1237.5T578 1472H806V0Z" fill="#72625b"/>
<text transform="translate(3018.1,1194.4) scale(1,1.04)" fill="#72625b" font-size="91.5" text-anchor="start">0</text>
<path transform="translate(2311.26,1468.20) scale(0.04468,-0.04468)" d="M806 0H525V1059Q371 915 162 846V1101Q272 1137 401 1237.5T578 1472H806V0Z" fill="#72625b"/>
<text transform="translate(2362.2,1468.2) scale(1,1.04)" fill="#72625b" font-size="91.5" text-anchor="start">3</text>
<text transform="translate(2600.5,1542.7) scale(1,1.04)" fill="#72625b" font-size="91.5" text-anchor="middle">3</text>
<text transform="translate(2797.0,1465.5) scale(1,1.04)" fill="#72625b" font-size="91.5" text-anchor="middle">4</text>
<text transform="translate(2969.0,1386.0) scale(1,1.04)" fill="#72625b" font-size="91.5" text-anchor="middle">5</text>
<text transform="translate(3144.6,1452.4) scale(1,1.04)" fill="#72625b" font-size="91.5" text-anchor="middle">6</text>
<text transform="translate(3357.6,1413.5) scale(1,1.04)" fill="#72625b" font-size="91.5" text-anchor="middle">9</text>
<text transform="translate(3091.9,1563.2) scale(1,1.04)" fill="#72625b" font-size="91.5" text-anchor="middle">7</text>
<text transform="translate(3169.4,1709.5) scale(1,1.04)" fill="#72625b" font-size="91.5" text-anchor="middle">8</text>
<text transform="translate(2439.7,1777.0) scale(1,1.04)" fill="#72625b" font-size="91.5" text-anchor="middle">2</text>
<path transform="translate(2280.56,1868.80) scale(0.04468,-0.04468)" d="M806 0H525V1059Q371 915 162 846V1101Q272 1137 401 1237.5T578 1472H806V0Z" fill="#72625b"/>
</svg>
</body></html>
